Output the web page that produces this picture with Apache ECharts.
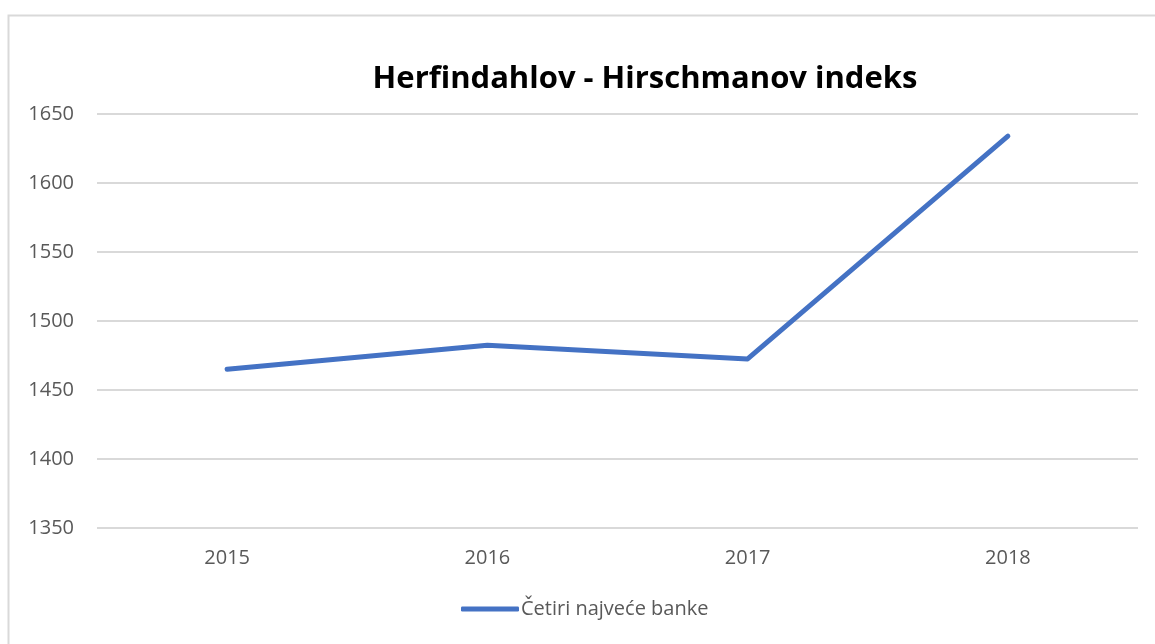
<!DOCTYPE html>
<html>
<head>
<meta charset="utf-8">
<script src="https://cdn.jsdelivr.net/npm/echarts@6/dist/echarts.min.js"></script>
<style>
  html, body { margin: 0; padding: 0; background: #fff; }
  #chart { width: 1155px; height: 644px; }
</style>
</head>
<body>
<div id="chart"></div>
<script>
// data
const years = ["2015", "2016", "2017", "2018"];
const hhiValues = [1465, 1482.5, 1472.5, 1634];
const seriesName = "Četiri najveće banke";

const FONT = "'Open Sans', 'Liberation Sans', sans-serif";
const LABEL_COLOR = "#595959";
const GRID_COLOR = "#d9d9d9";

const chart = echarts.init(document.getElementById("chart"), null, { renderer: "canvas" });

chart.setOption({
	animation: false,
	backgroundColor: "#fff",
	// outer chart-area frame (right and bottom edges fall outside the picture)
	graphic: [
		{
			type: "rect",
			shape: { x: 8.5, y: 15.5, width: 1200, height: 700 },
			style: { fill: "none", stroke: GRID_COLOR, lineWidth: 2 },
			silent: true,
		},
	],
	title: {
		text: "Herfindahlov - Hirschmanov indeks",
		left: 640,
		top: 59,
		textAlign: "center",
		textStyle: { fontFamily: FONT, fontWeight: "bold", fontSize: 31, color: "#000" },
	},
	legend: {
		data: [seriesName],
		bottom: 20,
		left: 456,
		itemWidth: 58,
		itemHeight: 5,
		itemGap: 4,
		icon: "roundRect",
		textStyle: { fontFamily: FONT, fontSize: 20, color: LABEL_COLOR, padding: [0, 0, 0, -3] },
	},
	grid: { left: 97, right: 17, top: 114, bottom: 116 },
	xAxis: {
		type: "category",
		data: years,
		boundaryGap: true,
		axisLine: { show: false },
		axisTick: { show: false },
		axisLabel: { margin: 20, fontFamily: FONT, fontSize: 20, color: LABEL_COLOR },
	},
	yAxis: {
		type: "value",
		min: 1350,
		max: 1650,
		interval: 50,
		axisLine: { show: false },
		axisTick: { show: false },
		axisLabel: {
			margin: 23,
			fontFamily: FONT,
			fontSize: 20,
			color: LABEL_COLOR,
			formatter: (v) => String(v),
		},
		splitLine: { lineStyle: { color: GRID_COLOR, width: 2 } },
	},
	series: [
		{
			name: seriesName,
			type: "line",
			data: hhiValues,
			symbol: "none",
			lineStyle: { color: "#4472C4", width: 5, cap: "round", join: "round" },
			itemStyle: { color: "#4472C4" },
		},
	],
});
</script>
</body>
</html>
